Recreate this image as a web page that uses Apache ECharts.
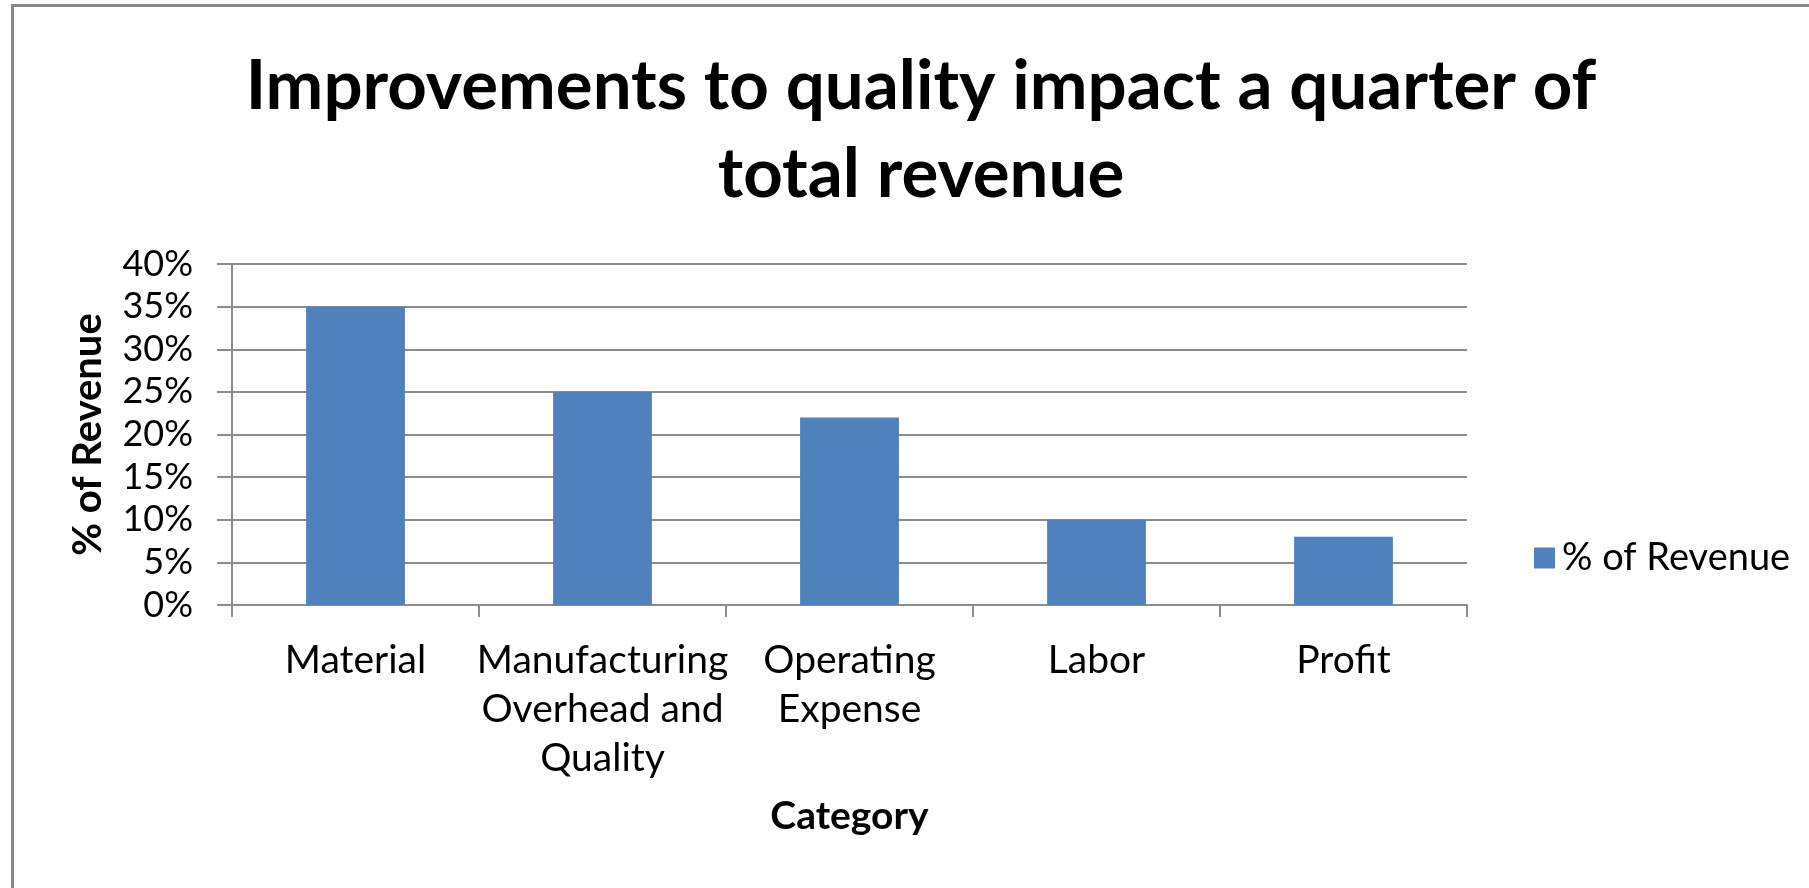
<!DOCTYPE html>
<html>
<head>
<meta charset="utf-8">
<script src="https://cdn.jsdelivr.net/npm/echarts@6/dist/echarts.min.js"></script>
<style>
  html, body { margin: 0; padding: 0; background: #ffffff; }
  #chart { width: 1809px; height: 888px; }
</style>
</head>
<body>
<div id="chart"></div>
<script>
// Share of revenue by cost category
const categories = [
  'Material',
  'Manufacturing\nOverhead and\nQuality',
  'Operating\nExpense',
  'Labor',
  'Profit'
];
const revenueShare = [0.35, 0.25, 0.22, 0.10, 0.08];
const seriesName = '% of Revenue';
const yTicks = { min: 0, max: 0.4, step: 0.05 };

const FONT = 'Lato, Carlito, "Open Sans", sans-serif';
const GRID_GRAY = '#8c8c8c';

const chart = echarts.init(document.getElementById('chart'), null, { renderer: 'canvas' });

chart.setOption({
  backgroundColor: '#ffffff',
  animation: false,
  title: {
    text: 'Improvements to quality impact a quarter of\ntotal revenue',
    left: 921,
    top: 43,
    textAlign: 'center',
    padding: 0,
    textStyle: {
      fontFamily: FONT,
      fontWeight: 'bold',
      fontSize: 69,
      lineHeight: 88,
      color: '#000000'
    }
  },
  legend: {
    data: [seriesName],
    left: 1534,
    top: 538,
    padding: 0,
    icon: 'rect',
    itemWidth: 21,
    itemHeight: 21,
    textStyle: {
      fontFamily: FONT,
      fontSize: 38,
      lineHeight: 40,
      color: '#000000',
      padding: [0, 0, 0, 2]
    }
  },
  grid: {
    left: 232,
    right: 342,
    top: 264,
    bottom: 283,
    containLabel: false
  },
  xAxis: {
    type: 'category',
    data: categories,
    name: 'Category',
    nameLocation: 'middle',
    nameGap: 191,
    nameTextStyle: {
      fontFamily: FONT,
      fontWeight: 'bold',
      fontSize: 39,
      lineHeight: 40,
      color: '#000000'
    },
    axisLine: { show: true, lineStyle: { color: GRID_GRAY, width: 2 } },
    axisTick: {
      show: true,
      alignWithLabel: false,
      length: 12,
      lineStyle: { color: GRID_GRAY, width: 2 }
    },
    axisLabel: {
      interval: 0,
      margin: 31,
      fontFamily: FONT,
      fontSize: 39,
      lineHeight: 49,
      color: '#000000'
    },
    splitLine: { show: false }
  },
  yAxis: {
    type: 'value',
    min: yTicks.min,
    max: yTicks.max,
    interval: yTicks.step,
    name: seriesName,
    nameLocation: 'middle',
    nameRotate: 90,
    nameGap: 124,
    nameTextStyle: {
      fontFamily: FONT,
      fontWeight: 'bold',
      fontSize: 40,
      lineHeight: 40,
      color: '#000000'
    },
    axisLine: { show: true, lineStyle: { color: GRID_GRAY, width: 2 } },
    axisTick: {
      show: true,
      inside: false,
      length: 15,
      lineStyle: { color: GRID_GRAY, width: 2 }
    },
    axisLabel: {
      margin: 39,
      fontFamily: FONT,
      fontSize: 36,
      color: '#000000',
      formatter: v => Math.round(v * 100) + '%'
    },
    splitLine: { show: true, lineStyle: { color: GRID_GRAY, width: 2 } }
  },
  series: [{
    name: seriesName,
    type: 'bar',
    data: revenueShare,
    barWidth: '40%',
    itemStyle: { color: '#4f81bd' }
  }],
  graphic: [{
    // chart area frame (top and left edges visible)
    type: 'rect',
    left: 10,
    top: 3,
    silent: true,
    shape: { x: 0, y: 0, width: 1900, height: 1000 },
    style: { fill: 'none', stroke: '#878787', lineWidth: 3 }
  }]
});
</script>
</body>
</html>
